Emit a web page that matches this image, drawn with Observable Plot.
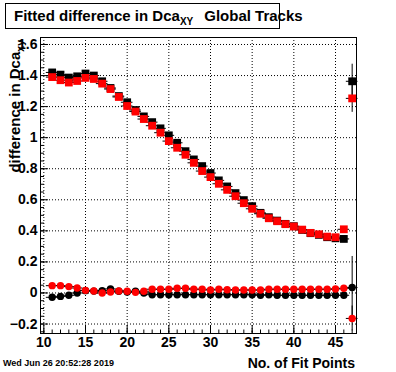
<!DOCTYPE html>
<html><head><meta charset="utf-8">
<script src="https://cdn.jsdelivr.net/npm/d3@7"></script>
<script src="https://cdn.jsdelivr.net/npm/@observablehq/plot@0.6"></script>
<style>body{margin:0;background:#fff}</style>
</head><body><div id="chart"></div>
<script>
// ---- data ----
const fitPoints = [11,12,13,14,15,16,17,18,19,20,21,22,23,24,25,26,27,28,29,30,31,32,33,34,35,36,37,38,39,40,41,42,43,44,45,46,47];
const sigmaBlack = [1.42,1.406,1.387,1.395,1.413,1.40,1.363,1.32,1.268,1.228,1.178,1.137,1.10,1.06,1.015,0.967,0.913,0.86,0.817,0.772,0.725,0.686,0.643,0.598,0.559,0.516,0.488,0.466,0.445,0.43,0.406,0.385,0.374,0.359,0.352,0.348,1.363];
const sigmaRed   = [1.39,1.37,1.355,1.365,1.385,1.378,1.348,1.313,1.262,1.204,1.168,1.12,1.077,1.032,0.978,0.935,0.89,0.838,0.785,0.746,0.703,0.664,0.623,0.578,0.542,0.51,0.481,0.462,0.443,0.428,0.408,0.387,0.378,0.363,0.359,0.41,1.253];
const meanBlack  = [-0.028,-0.022,-0.015,0.0,0.015,0.012,0.015,0.026,0.011,0.006,0.011,0.0,-0.011,-0.011,-0.011,-0.011,-0.011,-0.011,-0.011,-0.011,-0.011,-0.011,-0.011,-0.011,-0.011,-0.015,-0.011,-0.015,-0.015,-0.015,-0.015,-0.015,-0.015,-0.015,-0.015,-0.015,0.035];
const meanRed    = [0.047,0.047,0.041,0.032,0.017,0.013,0.0,0.006,0.013,0.011,0.004,0.011,0.024,0.024,0.024,0.03,0.03,0.024,0.024,0.019,0.024,0.021,0.019,0.019,0.019,0.019,0.024,0.024,0.024,0.024,0.024,0.024,0.024,0.024,0.026,0.03,-0.164];
const errSigmaBlack = [0.004,0.004,0.004,0.004,0.004,0.004,0.004,0.004,0.004,0.004,0.004,0.004,0.004,0.004,0.004,0.004,0.004,0.004,0.004,0.004,0.004,0.004,0.004,0.004,0.004,0.004,0.004,0.004,0.004,0.004,0.004,0.005,0.005,0.006,0.007,0.01,0.11];
const errSigmaRed   = [0.004,0.004,0.004,0.004,0.004,0.004,0.004,0.004,0.004,0.004,0.004,0.004,0.004,0.004,0.004,0.004,0.004,0.004,0.004,0.004,0.004,0.004,0.004,0.004,0.004,0.004,0.004,0.004,0.004,0.004,0.004,0.005,0.005,0.006,0.007,0.01,0.09];
const errMeanBlack  = [0.004,0.004,0.004,0.004,0.004,0.004,0.004,0.004,0.004,0.004,0.004,0.004,0.004,0.004,0.004,0.004,0.004,0.004,0.004,0.004,0.004,0.004,0.004,0.004,0.004,0.004,0.004,0.004,0.004,0.004,0.004,0.005,0.005,0.006,0.007,0.01,0.2];
const errMeanRed    = [0.004,0.004,0.004,0.004,0.004,0.004,0.004,0.004,0.004,0.004,0.004,0.004,0.004,0.004,0.004,0.004,0.004,0.004,0.004,0.004,0.004,0.004,0.004,0.004,0.004,0.004,0.004,0.004,0.004,0.004,0.004,0.005,0.005,0.006,0.007,0.01,0.08];
const xTickLabels = [10,15,20,25,30,35,40,45];
const yTickLabels = [-0.2,0,0.2,0.4,0.6,0.8,1,1.2,1.4,1.6];
const xMinor = [10,11,12,13,14,15,16,17,18,19,20,21,22,23,24,25,26,27,28,29,30,31,32,33,34,35,36,37,38,39,40,41,42,43,44,45,46,47];
const yMinor = [-0.25,-0.2,-0.15,-0.1,-0.05,0,0.05,0.1,0.15,0.2,0.25,0.3,0.35,0.4,0.45,0.5,0.55,0.6,0.65,0.7,0.75,0.8,0.85,0.9,0.95,1,1.05,1.1,1.15,1.2,1.25,1.3,1.35,1.4,1.45,1.5,1.55,1.6];

const mk = (vals, errs) => fitPoints.map((n, i) => ({n, v: vals[i], e: errs[i]}));
const sB = mk(sigmaBlack, errSigmaBlack), sR = mk(sigmaRed, errSigmaRed);
const mB = mk(meanBlack, errMeanBlack), mR = mk(meanRed, errMeanRed);

const W = 396, H = 372, ml = 40, mr = 40, mt = 37, mb = 39;
const fw = W - ml - mr, fh = H - mt - mb;
const font = "'Liberation Sans', Arial, Helvetica, sans-serif";

const errMarks = (data) => [
  Plot.ruleY(data, {y: "v", x1: d => d.n - 0.7, x2: d => d.n + 0.7, stroke: "black", strokeWidth: 1}),
  Plot.ruleX(data, {x: "n", y1: d => d.v - d.e, y2: d => d.v + d.e, stroke: "black", strokeWidth: 1})
];

const fmt = d => d === 0 ? "0" : (d < 0 ? "\u2212" + String(-d) : String(d));

const plot = Plot.plot({
  width: W, height: H,
  marginLeft: ml, marginRight: mr, marginTop: mt, marginBottom: mb,
  style: {fontFamily: font, background: "white", overflow: "visible"},
  x: {domain: [9.6, 47.52], axis: null, label: null},
  y: {domain: [-0.261, 1.645], axis: null, label: null},
  marks: [
    Plot.ruleX(xTickLabels, {x: d => d, stroke: "black", strokeDasharray: "1,2", strokeWidth: 1}),
    Plot.ruleY(yTickLabels, {y: d => d, stroke: "black", strokeDasharray: "1,2", strokeWidth: 1}),
    Plot.ruleX(xMinor, {x: d => d, insetTop: fh - 3.5, stroke: "black"}),
    Plot.ruleX(xTickLabels, {x: d => d, insetTop: fh - 8, stroke: "black"}),
    Plot.ruleY(yMinor, {y: d => d, insetRight: fw - 4, stroke: "black"}),
    Plot.ruleY(yTickLabels, {y: d => d, insetRight: fw - 8, stroke: "black"}),
    Plot.axisX(xTickLabels, {label: null, tickSize: 0, tickPadding: 4, fontSize: 14, fontWeight: "bold", fill: "black", tickFormat: d => String(d)}),
    Plot.axisY(yTickLabels, {label: null, tickSize: 0, tickPadding: 3, fontSize: 14, fontWeight: "bold", fill: "black", tickFormat: fmt}),
    ...errMarks(mB), ...errMarks(mR), ...errMarks(sB), ...errMarks(sR),
    Plot.dot(mB, {x: "n", y: "v", r: 3.7, fill: "black", stroke: null}),
    Plot.dot(mR, {x: "n", y: "v", r: 3.7, fill: "#ff0000", stroke: null}),
    Plot.dot(sB, {x: "n", y: "v", r: 4.4, symbol: "square", fill: "black", stroke: null}),
    Plot.dot(sR, {x: "n", y: "v", r: 4.4, symbol: "square", fill: "#ff0000", stroke: null}),
    Plot.frame({stroke: "black", strokeWidth: 1})
  ]
});

const svg = d3.select(plot);
// title box
svg.append("rect").attr("x", 5.5).attr("y", 3.5).attr("width", 274).attr("height", 25)
  .attr("fill", "white").attr("stroke", "black").attr("stroke-width", 1);
const t = svg.append("text").attr("x", 14).attr("y", 21).attr("text-anchor", "start").attr("font-family", font)
  .attr("font-weight", "bold").attr("font-size", 15).attr("fill", "black");
t.append("tspan").text("Fitted difference in Dca");
t.append("tspan").attr("font-size", 10).attr("dy", 4).text("XY");
t.append("tspan").attr("dy", -4).attr("dx", 11).text("Global Tracks");
// y title
const yt = svg.append("text").attr("transform", "translate(20,40) rotate(-90)")
  .attr("text-anchor", "end").attr("font-family", font).attr("font-weight", "bold")
  .attr("font-size", 15).attr("fill", "black");
yt.append("tspan").text("difference in Dca");
yt.append("tspan").attr("font-size", 10.5).attr("dy", 4).text("xy");
// x title
svg.append("text").attr("x", 355).attr("y", 368).attr("text-anchor", "end")
  .attr("font-family", font).attr("font-weight", "bold").attr("font-size", 14)
  .attr("fill", "black").text("No. of Fit Points");
// date
svg.append("text").attr("x", 3).attr("y", 366).attr("text-anchor", "start").attr("font-family", font)
  .attr("font-weight", "bold").attr("font-size", 9).attr("fill", "black")
  .text("Wed Jun 26 20:52:28 2019");

document.getElementById("chart").appendChild(plot);
</script>
</body></html>
